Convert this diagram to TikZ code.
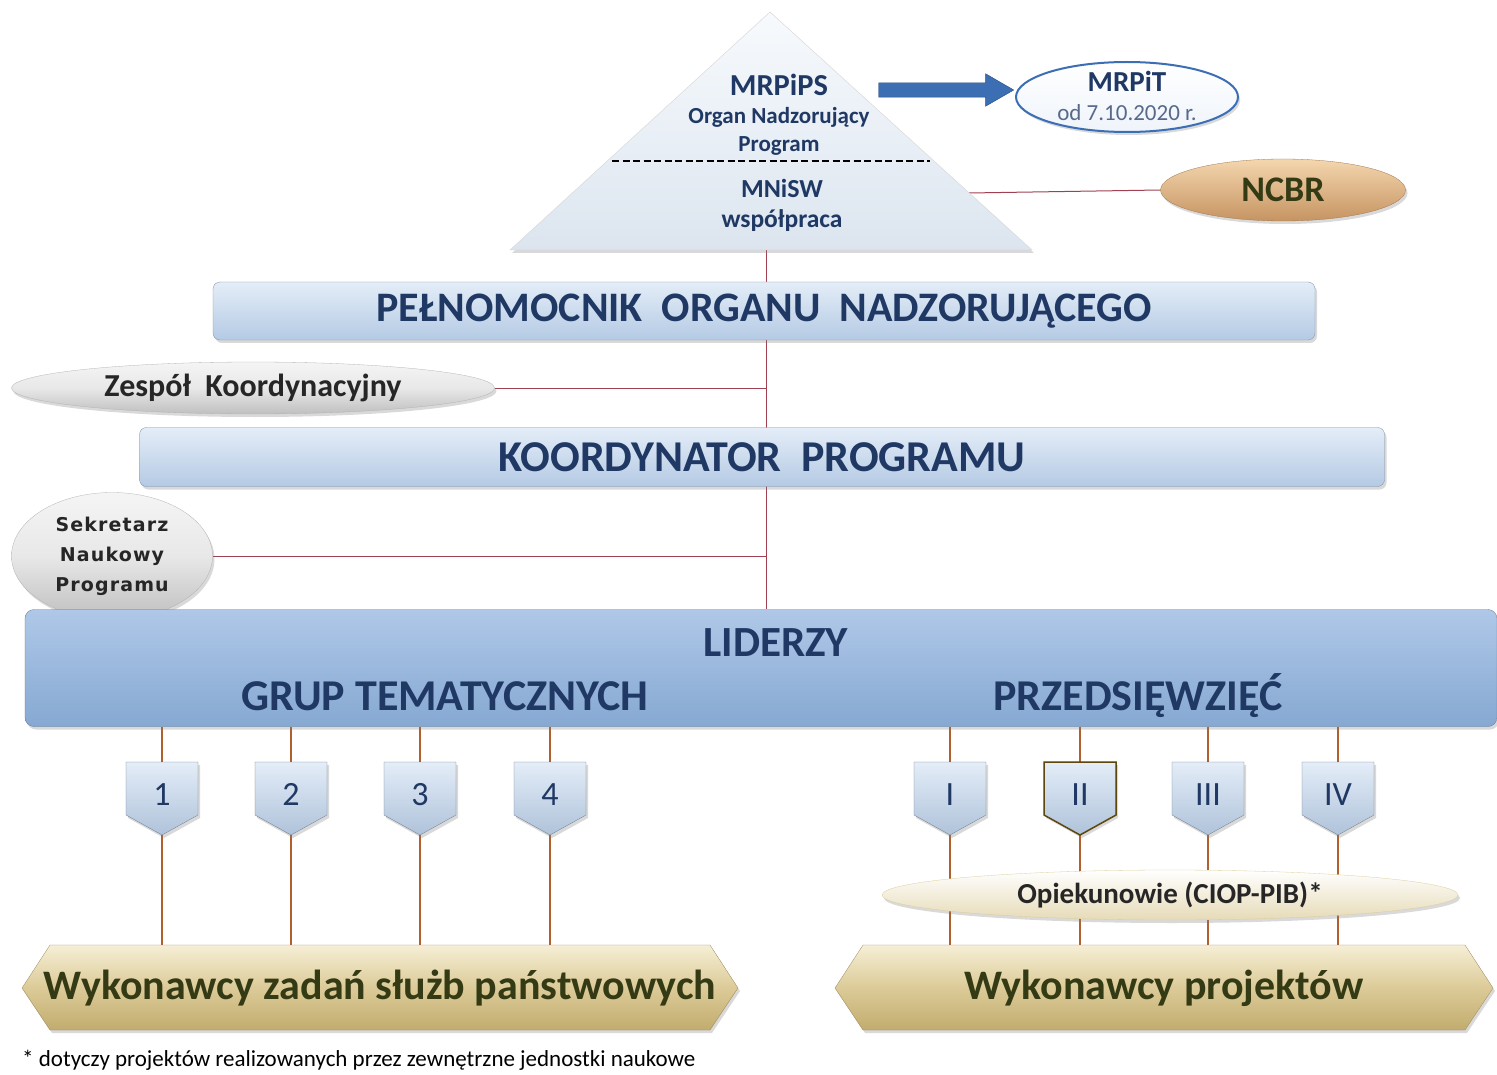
\documentclass[tikz,border=0pt]{standalone}
\usepackage{fontspec}
\setmainfont{Carlito}
\newfontfamily\verdanaish[LetterSpace=6]{DejaVu Sans}
\usetikzlibrary{shapes.geometric,shapes.arrows,shadows,backgrounds}

\definecolor{navy}{HTML}{1F3864}
\definecolor{barhi}{HTML}{E4EDF8}
\definecolor{barlo}{HTML}{B4CAE4}
\definecolor{trihi}{HTML}{F7FAFD}
\definecolor{trilo}{HTML}{DCE5EF}
\definecolor{lidhi}{HTML}{AFC8E8}
\definecolor{lidlo}{HTML}{86A8D2}
\definecolor{linkred}{HTML}{A04050}
\definecolor{stembrown}{HTML}{B0602C}
\definecolor{arrowblue}{HTML}{3C6EB4}
\definecolor{tanhi}{HTML}{F6EFD6}
\definecolor{tanmid}{HTML}{DCCB98}
\definecolor{tanlo}{HTML}{C2AC6E}
\definecolor{peachhi}{HTML}{F4D6AE}
\definecolor{peachmid}{HTML}{E3B581}
\definecolor{peachlo}{HTML}{C69462}
\definecolor{olive}{HTML}{343A14}

\begin{document}
\begin{tikzpicture}[x=1pt, y=-1pt,
        link/.style={draw=linkred, line width=1pt},
        stem/.style={draw=stembrown, line width=2.5pt},
        shade/.style={drop shadow={opacity=0.3, shadow xshift=2pt, shadow yshift=-3pt}},
        bar/.style={rectangle, rounded corners=7pt, draw=barlo!70!black, line width=0.3pt,
            top color=barhi, bottom color=barlo, text=navy, shade,
            font=\fontsize{42}{42}\selectfont\bfseries},
        greyoval/.style={ellipse, inner sep=0pt, draw=gray!60, line width=0.3pt,
            top color=gray!8, bottom color=gray!50, middle color=gray!18, shade},
        shieldbox/.style={rectangle, minimum width=72pt, minimum height=73pt, inner sep=0pt,
            text=navy, font=\fontsize{34}{34}\selectfont},
        shield/.style={top color=barhi, bottom color=barlo!90!gray, draw=barlo!60!black,
            line width=0.3pt, shade},
        banner/.style={top color=tanhi, bottom color=tanlo, middle color=tanmid,
            draw=tanlo!80!black, line width=0.3pt, shade},
        bannertext/.style={rectangle, inner sep=0pt, text=olive,
            font=\fontsize{42}{42}\selectfont\bfseries},
        tritext/.style={text=navy, inner sep=0pt},
    ]
    \useasboundingbox (0,0) rectangle (1497,1075);

    % pyramid
    \path[top color=trihi, bottom color=trilo, draw=gray!30, line width=0.5pt, shade]
        (770,12) -- (1032,250) -- (510,250) -- cycle;
    \coordinate (tribase) at (766,250);
    \coordinate (triright) at (969,193);
    \node[tritext, font=\fontsize{30.5}{30.5}\selectfont\bfseries] (mrpips) at (779,85) {MRPiPS};
    \node[tritext, font=\fontsize{23}{23}\selectfont\bfseries] (organ) at (779,117) {Organ Nadzorujący};
    \node[tritext, font=\fontsize{23}{23}\selectfont\bfseries] (prog) at (779,146) {Program};
    \draw[line width=2pt, dash pattern=on 7pt off 3.5pt] (612,161) -- (930,161);
    \node[tritext, font=\fontsize{26}{26}\selectfont\bfseries] (mnisw) at (782,188) {MNiSW};
    \node[tritext, font=\fontsize{25.5}{25.5}\selectfont\bfseries] (wsp) at (782,221) {współpraca};

    % ministry change
    \node[single arrow, fill=arrowblue, draw=arrowblue!70!black, inner sep=7pt,
        minimum height=135pt, single arrow head extend=9pt, single arrow tip angle=60]
        (shift) at (940,90) {};
    \node[ellipse, minimum width=222pt, minimum height=70pt, inner sep=0pt,
        top color=white, bottom color=barhi!60, draw=arrowblue, line width=2pt, shade]
        (mrpit) at (1127,97) {};
    \node[tritext, font=\fontsize{29}{29}\selectfont\bfseries] at (1127,81) {MRPiT};
    \node[tritext, text=navy!75, font=\fontsize{23}{23}\selectfont] at (1127,113) {od 7.10.2020 r.};

    \node[ellipse, minimum width=245pt, minimum height=62pt, inner sep=0pt,
        top color=peachhi, middle color=peachmid, bottom color=peachlo,
        draw=peachlo!80!black, line width=0.3pt, shade, text=olive,
        font=\fontsize{36}{36}\selectfont\bfseries] (ncbr) at (1283,190) {NCBR};

    % bars
    \node[bar, minimum width=1102pt, minimum height=58pt] (pelnom) at (764,311)
        {PEŁNOMOCNIK\ \ ORGANU\ \ NADZORUJĄCEGO};
    \node[greyoval, minimum width=483pt, minimum height=52pt, text=black!85,
        font=\fontsize{32}{32}\selectfont\bfseries] (zespol) at (253,388) {Zespół\ \ Koordynacyjny};
    \node[bar, minimum width=1245pt, minimum height=59pt, font=\fontsize{44}{44}\selectfont\bfseries]
        (koord) at (762,457) {KOORDYNATOR\ \ PROGRAMU};
    \node[greyoval, minimum width=201pt, minimum height=127pt, text=black!85, align=center,
        font=\verdanaish\fontsize{19}{30}\selectfont\bfseries] (sekr) at (112,556)
        {Sekretarz\\Naukowy\\Programu};
    \node[rectangle, rounded corners=9pt, minimum width=1472pt, minimum height=117pt,
        top color=lidhi, bottom color=lidlo, draw=lidlo!70!black, line width=0.3pt, shade]
        (lid) at (761,668) {};
    \node[text=navy, font=\fontsize{43}{43}\selectfont\bfseries] (liderzy) at (776,643) {LIDERZY};
    \node[text=navy, font=\fontsize{44}{44}\selectfont\bfseries] (grup) at (445,696) {GRUP TEMATYCZNYCH};
    \node[text=navy, font=\fontsize{44}{44}\selectfont\bfseries] (przed) at (1138,696) {PRZEDSIĘWZIĘĆ};

    % executors
    \path[banner] (22,988) -- (50,945) -- (710,945) -- (738,988) -- (710,1030) -- (50,1030) -- cycle;
    \node[bannertext, minimum width=716pt, minimum height=85pt] (wz) at (380,988)
        {Wykonawcy zadań służb państwowych};
    \path[banner] (835,988) -- (863,945) -- (1465,945) -- (1493,988) -- (1465,1030) -- (863,1030) -- cycle;
    \node[bannertext, minimum width=658pt, minimum height=85pt] (wp) at (1164,988)
        {Wykonawcy projektów};

    % thematic groups and undertakings
    \foreach \x/\t/\n in {162/1/g1, 291/2/g2, 420/3/g3, 550/4/g4,
            950/I/p1, 1080/II/p2, 1208/III/p3, 1338/IV/p4} {
        \path[shield] (\x-36,762) -- (\x+36,762) -- (\x+36,815) -- (\x,835)
            -- (\x-36,815) -- cycle;
        \node[shieldbox] (\n) at (\x,798.5) {\raisebox{8pt}{\t}};
    }
    \draw[draw=olive!80!orange, line width=1.5pt] (1044,762) -- (1116,762) -- (1116,815)
        -- (1080,835) -- (1044,815) -- cycle;

    \begin{scope}[on background layer]
        \draw[link] (tribase) -- (tribase |- lid.north);
        \draw[link] (triright) -- (ncbr.west);
        \draw[link] (zespol.east) -- (zespol.east -| tribase);
        \draw[link] (sekr.east) -- (sekr.east -| tribase);
        \foreach \n in {g1,g2,g3,g4} {
            \draw[stem] (\n.north |- lid.south) -- (\n.north);
            \draw[stem] (\n.south) -- (\n.south |- wz.north);
        }
        \foreach \n in {p1,p2,p3,p4} {
            \draw[stem] (\n.north |- lid.south) -- (\n.north);
            \draw[stem] (\n.south) -- (\n.south |- wp.north);
        }
    \end{scope}

    \node[ellipse, minimum width=576pt, minimum height=50pt, inner sep=0pt,
        top color=white, middle color=tanhi!70, bottom color=tanmid!70, draw=tanmid,
        line width=0.3pt, shade, text=black!85, font=\fontsize{29}{29}\selectfont\bfseries]
        (opiek) at (1170,895) {Opiekunowie (CIOP-PIB)*};

    \node[anchor=west, inner sep=0pt, font=\fontsize{23}{23}\selectfont] (note) at (22,1060)
        {* dotyczy projektów realizowanych przez zewnętrzne jednostki naukowe};
\end{tikzpicture}
\end{document}
